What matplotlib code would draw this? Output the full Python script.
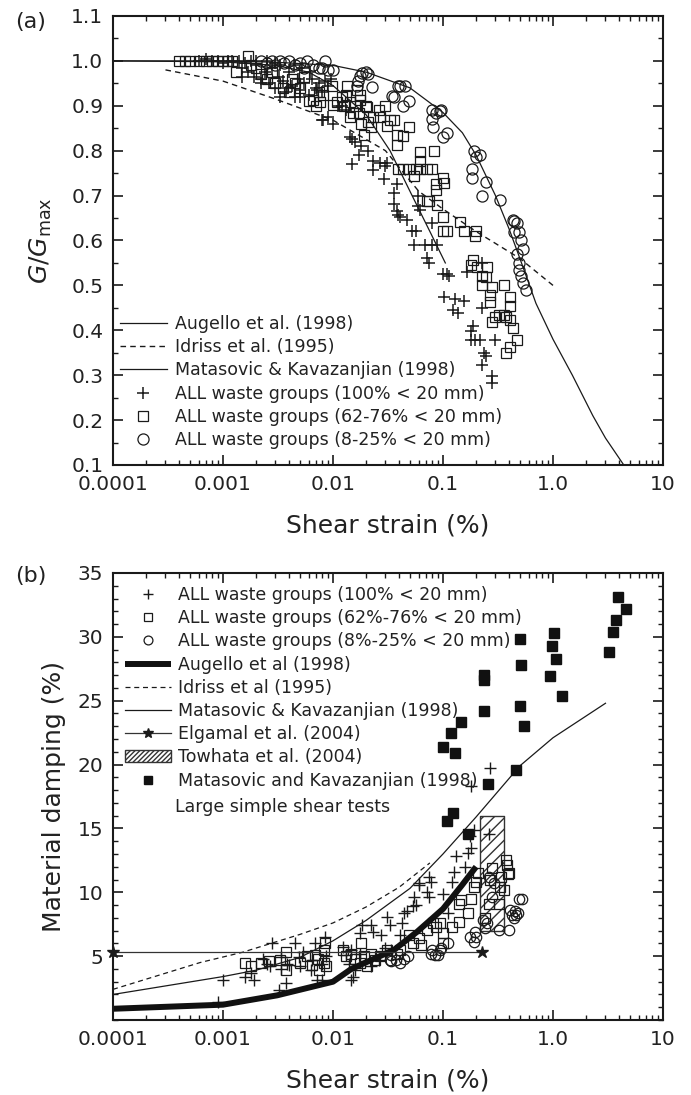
import numpy as np
import matplotlib
matplotlib.use("Agg")
import matplotlib.pyplot as plt
from matplotlib.ticker import LogLocator, NullFormatter, MultipleLocator
from matplotlib.patches import Patch
from matplotlib.lines import Line2D

# ---------------- (a) modulus reduction ----------------
aug_a_x = [0.0001, 0.001, 0.003, 0.01, 0.02, 0.05, 0.1, 0.15, 0.2, 0.3, 0.4, 0.5, 0.7, 1.0,
           1.5, 2.3, 3.0, 4.4]
aug_a_y = [1.0, 1.0, 0.997, 0.99, 0.975, 0.94, 0.885, 0.84, 0.79, 0.70, 0.625, 0.56, 0.46, 0.38,
           0.30, 0.21, 0.16, 0.10]

idr_a_x = [0.0003, 0.001, 0.003, 0.01, 0.03, 0.06, 0.1, 0.2, 0.5, 1.0]
idr_a_y = [0.98, 0.955, 0.915, 0.868, 0.80, 0.71, 0.67, 0.62, 0.56, 0.50]

mk_a_x = [0.0001, 0.001, 0.003, 0.006, 0.01, 0.02, 0.033, 0.05, 0.076, 0.105]
mk_a_y = [1.0, 0.998, 0.99, 0.975, 0.945, 0.88, 0.80, 0.71, 0.62, 0.55]

plus_a_x = [0.0006, 0.0007, 0.0008, 0.0009, 0.001, 0.0011, 0.0012, 0.0014, 0.0016, 0.0018,
            0.002, 0.0025, 0.003, 0.0015, 0.0017, 0.0019, 0.002, 0.0022, 0.0024, 0.0026,
            0.0028, 0.003, 0.0032, 0.0035, 0.0037, 0.004, 0.0042, 0.0045, 0.0048, 0.005,
            0.0055, 0.006, 0.0065, 0.007, 0.0075, 0.008, 0.0085, 0.009, 0.0095, 0.0052,
            0.0062, 0.0033, 0.0044, 0.0038, 0.0015, 0.0022, 0.0033, 0.005, 0.0071, 0.0081,
            0.008, 0.01, 0.009, 0.011, 0.0144, 0.015, 0.0158, 0.015, 0.0173, 0.018,
            0.021, 0.023, 0.023, 0.027, 0.029, 0.03, 0.031, 0.036, 0.038, 0.036,
            0.038, 0.039, 0.041, 0.047, 0.052, 0.054, 0.057, 0.059, 0.059, 0.062,
            0.069, 0.072, 0.075, 0.079, 0.079, 0.089, 0.099, 0.108, 0.113, 0.103,
            0.129, 0.123, 0.155, 0.136, 0.167, 0.178, 0.186, 0.18, 0.195, 0.215,
            0.226, 0.236, 0.248, 0.30, 0.28, 0.28, 0.226, 0.226, 0.012, 0.013]
plus_a_y = [1.0, 1.005, 1.0, 1.0, 0.995, 1.0, 1.0, 1.0, 0.995, 1.0,
            1.0, 1.0, 0.995, 0.985, 0.975, 0.965, 0.99, 0.96, 0.975, 0.95,
            0.985, 0.94, 0.965, 0.955, 0.93, 0.975, 0.945, 0.92, 0.96, 0.935,
            0.95, 0.925, 0.96, 0.94, 0.95, 0.93, 0.955, 0.945, 0.96, 0.985,
            0.975, 0.99, 0.99, 0.94, 0.964, 0.951, 0.92, 0.92, 0.935, 0.868,
            0.868, 0.86, 0.875, 0.90, 0.83, 0.825, 0.82, 0.77, 0.79, 0.81,
            0.80, 0.776, 0.757, 0.773, 0.737, 0.765, 0.773, 0.705, 0.725, 0.681,
            0.665, 0.657, 0.653, 0.645, 0.621, 0.59, 0.621, 0.70, 0.677, 0.669,
            0.59, 0.56, 0.55, 0.59, 0.64, 0.59, 0.525, 0.525, 0.52, 0.474,
            0.47, 0.446, 0.466, 0.438, 0.53, 0.398, 0.41, 0.378, 0.378, 0.378,
            0.323, 0.35, 0.343, 0.378, 0.299, 0.283, 0.45, 0.55, 0.90, 0.89]

sq_a_x = [0.0004, 0.00045, 0.0005, 0.0006, 0.0007, 0.0008, 0.0009, 0.001, 0.0011, 0.0012,
          0.0013, 0.0017, 0.0018, 0.002, 0.0022, 0.0025, 0.003, 0.0035, 0.004, 0.0045,
          0.005, 0.006, 0.007, 0.0075, 0.0066, 0.0076, 0.01, 0.0134, 0.0177, 0.0204,
          0.0143, 0.0098, 0.0081, 0.0109, 0.012, 0.0126, 0.013, 0.0144, 0.0158, 0.0151,
          0.0173, 0.0166, 0.0176, 0.02, 0.018, 0.019, 0.021, 0.022, 0.023, 0.026,
          0.027, 0.03, 0.031, 0.033, 0.036, 0.038, 0.043, 0.038, 0.049, 0.062,
          0.082, 0.039, 0.043, 0.049, 0.057, 0.062, 0.072, 0.079, 0.054, 0.062,
          0.072, 0.075, 0.088, 0.099, 0.103, 0.086, 0.086, 0.099, 0.099, 0.108,
          0.143, 0.155, 0.20, 0.195, 0.186, 0.178, 0.204, 0.25, 0.226, 0.244,
          0.226, 0.28, 0.268, 0.268, 0.358, 0.41, 0.41, 0.30, 0.325, 0.358,
          0.37, 0.28, 0.41, 0.43, 0.47, 0.41, 0.37, 0.0028, 0.0042, 0.0055]
sq_a_y = [1.0, 1.0, 1.0, 1.0, 1.0, 1.0, 1.0, 1.0, 1.0, 1.0,
          0.975, 1.01, 0.99, 0.985, 0.97, 0.96, 0.95, 0.94, 0.93, 0.95,
          0.94, 0.91, 0.90, 0.93, 0.913, 0.909, 0.902, 0.944, 0.913, 0.897,
          0.875, 0.944, 0.923, 0.908, 0.92, 0.90, 0.924, 0.908, 0.90, 0.884,
          0.884, 0.935, 0.923, 0.90, 0.86, 0.836, 0.864, 0.852, 0.876, 0.89,
          0.876, 0.90, 0.856, 0.868, 0.868, 0.836, 0.832, 0.812, 0.852, 0.796,
          0.80, 0.76, 0.76, 0.76, 0.76, 0.76, 0.76, 0.76, 0.744, 0.776,
          0.689, 0.689, 0.68, 0.74, 0.728, 0.725, 0.712, 0.653, 0.621, 0.621,
          0.641, 0.621, 0.621, 0.609, 0.557, 0.545, 0.541, 0.54, 0.52, 0.518,
          0.50, 0.497, 0.478, 0.462, 0.502, 0.474, 0.454, 0.43, 0.434, 0.434,
          0.43, 0.418, 0.422, 0.406, 0.378, 0.362, 0.35, 0.975, 0.96, 0.965]

circ_a_x = [0.0022, 0.0025, 0.0028, 0.003, 0.0033, 0.0036, 0.004, 0.0045, 0.005, 0.0055,
            0.0058, 0.0066, 0.0075, 0.0084, 0.009, 0.01, 0.008,
            0.0176, 0.0185, 0.02, 0.021, 0.017, 0.0166, 0.0225,
            0.036, 0.039, 0.041, 0.0454, 0.043, 0.049, 0.0347,
            0.079, 0.086, 0.094, 0.096, 0.079, 0.081, 0.099, 0.108,
            0.19, 0.20, 0.215, 0.185, 0.185, 0.226, 0.248, 0.33,
            0.44, 0.43, 0.47, 0.49, 0.44, 0.51, 0.535, 0.47, 0.49, 0.51,
            0.535, 0.566, 0.49]
circ_a_y = [1.0, 0.995, 1.0, 0.99, 1.0, 0.995, 1.0, 0.99, 0.995, 0.985,
            1.0, 0.99, 0.985, 1.0, 0.98, 0.98, 0.985,
            0.967, 0.972, 0.975, 0.97, 0.955, 0.945, 0.942,
            0.92, 0.944, 0.945, 0.943, 0.90, 0.91, 0.922,
            0.89, 0.885, 0.888, 0.89, 0.87, 0.852, 0.83, 0.84,
            0.80, 0.785, 0.79, 0.76, 0.74, 0.70, 0.73, 0.69,
            0.643, 0.645, 0.64, 0.62, 0.62, 0.60, 0.58, 0.57, 0.55, 0.52,
            0.505, 0.49, 0.535]

# ---------------- (b) damping ----------------
aug_b_x = [0.0001, 0.001, 0.0031, 0.01, 0.0147, 0.036, 0.058, 0.1, 0.147, 0.2]
aug_b_y = [0.88, 1.2, 1.93, 3.0, 4.0, 5.5, 6.9, 8.7, 10.5, 12.0]

idr_b_x = [0.0001, 0.00062, 0.0015, 0.005, 0.01, 0.02, 0.04, 0.076]
idr_b_y = [2.4, 4.5, 5.3, 6.7, 7.6, 8.85, 10.4, 12.3]

mk_b_x = [0.0001, 0.001, 0.002, 0.005, 0.01, 0.02, 0.05, 0.1, 0.2, 0.5, 1.0, 3.0]
mk_b_y = [2.0, 3.4, 3.9, 4.9, 6.2, 7.8, 10.3, 13.0, 15.9, 19.9, 22.1, 24.8]

elg_x = [0.0001, 0.225]
elg_y = [5.3, 5.3]

tow_x = [0.217, 0.36]
tow_lo, tow_hi = 7.0, 16.0

lss_x = [0.10, 0.117, 0.128, 0.147, 0.108, 0.124, 0.17, 0.234, 0.237, 0.234, 0.255,
         0.50, 0.51, 0.50, 0.55, 0.46, 1.02, 0.98, 1.07, 0.93, 1.2,
         3.87, 4.6, 3.7, 3.5, 3.2]
lss_y = [21.4, 22.5, 20.9, 23.3, 15.55, 16.2, 14.6, 27.0, 26.6, 24.2, 18.5,
         29.8, 27.8, 24.6, 23.0, 19.6, 30.3, 29.3, 28.3, 26.9, 25.4,
         33.1, 32.2, 31.3, 30.4, 28.8]

plus_b_x = [0.0009, 0.001, 0.0028, 0.0032, 0.0037, 0.0016, 0.0019, 0.0018, 0.0045, 0.0053,
            0.0068, 0.0084, 0.0034, 0.0038, 0.005, 0.0063, 0.0071, 0.008, 0.0065, 0.0049,
            0.0123, 0.0147, 0.0175, 0.0182, 0.022, 0.023, 0.0276, 0.031, 0.033, 0.041,
            0.044, 0.042, 0.047, 0.053, 0.057, 0.055, 0.061, 0.074, 0.077, 0.071,
            0.06, 0.074, 0.10, 0.11, 0.12, 0.126, 0.13, 0.16, 0.17, 0.18,
            0.19, 0.175, 0.26, 0.27, 0.18, 0.014, 0.016, 0.022, 0.026, 0.0175,
            0.03, 0.034, 0.0152, 0.0145, 0.013, 0.0034, 0.004, 0.0025, 0.0023, 0.0027,
            0.008, 0.0087]
plus_b_y = [1.44, 3.1, 6.06, 2.35, 2.9, 3.4, 3.1, 3.7, 6.0, 5.35,
            6.0, 6.5, 4.96, 4.4, 4.2, 3.9, 3.1, 3.1, 4.7, 4.96,
            5.74, 5.5, 6.84, 7.44, 7.44, 6.9, 6.66, 8.1, 7.44, 6.66,
            8.35, 7.57, 8.5, 8.9, 9.0, 9.66, 10.6, 11.2, 10.8, 10.05,
            10.7, 9.66, 9.9, 8.35, 10.8, 11.6, 12.85, 12.0, 13.05, 13.45,
            14.9, 14.4, 14.6, 19.7, 18.3, 4.4, 3.9, 4.2, 4.7, 5.2,
            5.6, 5.5, 3.4, 3.1, 5.1, 4.0, 4.3, 4.4, 4.8, 4.2,
            4.4, 5.0]

sq_b_x = [0.0016, 0.0018, 0.0022, 0.0026, 0.0033, 0.0037, 0.0037, 0.005, 0.0058, 0.0065,
          0.0073, 0.0082, 0.0084, 0.0082, 0.0087, 0.0075, 0.0068, 0.0123, 0.013, 0.0147,
          0.016, 0.0175, 0.019, 0.018, 0.0205, 0.022, 0.024, 0.027, 0.031, 0.038,
          0.041, 0.049, 0.053, 0.061, 0.063, 0.071, 0.081, 0.086, 0.093, 0.10,
          0.10, 0.12, 0.14, 0.14, 0.17, 0.18, 0.19, 0.20, 0.21, 0.27,
          0.28, 0.33, 0.34, 0.37, 0.38, 0.39, 0.40, 0.36, 0.32, 0.26,
          0.24, 0.147]
sq_b_y = [4.44, 4.2, 4.44, 4.6, 4.7, 5.35, 3.9, 4.44, 5.0, 4.3,
          4.8, 5.5, 6.0, 4.44, 4.2, 3.9, 5.1, 5.5, 5.0, 5.2,
          4.8, 4.44, 5.0, 6.0, 4.2, 5.2, 4.7, 5.0, 5.5, 5.2,
          5.5, 6.66, 6.0, 6.4, 5.87, 7.05, 7.57, 7.3, 7.57, 6.8,
          6.0, 7.3, 7.7, 9.1, 8.35, 9.5, 10.4, 10.8, 11.5, 11.0,
          11.9, 10.4, 11.2, 12.5, 12.1, 11.4, 11.5, 10.2, 9.1, 9.1,
          8.0, 9.4]

circ_b_x = [0.033, 0.034, 0.037, 0.041, 0.044, 0.048, 0.034, 0.078, 0.084, 0.09,
            0.093, 0.096, 0.11, 0.08, 0.175, 0.19, 0.20, 0.195, 0.23, 0.24,
            0.25, 0.28, 0.29, 0.26, 0.32, 0.40, 0.41, 0.42, 0.45, 0.46,
            0.48, 0.49, 0.52, 0.44]
circ_b_y = [4.7, 4.6, 4.7, 4.44, 4.8, 5.0, 5.1, 5.2, 5.1, 5.1,
            5.5, 5.6, 6.0, 5.5, 6.5, 6.1, 6.5, 6.9, 7.8, 7.2,
            7.57, 9.66, 10.7, 11.2, 7.05, 7.05, 8.6, 8.2, 8.5, 8.2,
            8.35, 9.5, 9.5, 8.0]

strain_ticks = [1e-4, 1e-3, 1e-2, 1e-1, 1.0, 10.0]
strain_labels = ["0.0001", "0.001", "0.01", "0.1", "1.0", "10"]

ink = "#1a1a1a"
fs_tick = 14.5
fs_label = 18
fs_leg = 12.5

fig = plt.figure(figsize=(6.91, 10.95), dpi=100)
W, H = 691.0, 1095.0
ax1 = fig.add_axes([113 / W, 1 - 465 / H, 550 / W, 449 / H])
ax2 = fig.add_axes([113 / W, 1 - 1020 / H, 550 / W, 447 / H])


def style_axes(ax):
    ax.set_xscale("log")
    ax.set_xlim(1e-4, 10)
    ax.set_xticks(strain_ticks, strain_labels)
    ax.xaxis.set_minor_locator(LogLocator(base=10, subs=np.arange(2, 10)))
    ax.xaxis.set_minor_formatter(NullFormatter())
    ax.tick_params(which="both", direction="in", top=True, right=True,
                   colors=ink, labelcolor="#222222", labelsize=fs_tick)
    ax.tick_params(which="major", length=7, width=1.2, pad=7)
    ax.tick_params(which="minor", length=3.8, width=1.0)
    for sp in ax.spines.values():
        sp.set_linewidth(1.5)
        sp.set_color(ink)
    ax.set_xlabel("Shear strain (%)", fontsize=fs_label, color="#222222", labelpad=14)


# ---- panel (a)
style_axes(ax1)
ax1.set_ylim(0.1, 1.1)
ax1.set_yticks(np.arange(0.1, 1.101, 0.1), [f"{v:.1f}" for v in np.arange(0.1, 1.101, 0.1)])
ax1.yaxis.set_minor_locator(MultipleLocator(0.05))
ax1.set_ylabel(r"$G/G_{\mathrm{max}}$", fontsize=fs_label, color="#222222", labelpad=12)

h_aug, = ax1.plot(aug_a_x, aug_a_y, color=ink, lw=0.9, label="Augello et al. (1998)")
h_idr, = ax1.plot(idr_a_x, idr_a_y, color=ink, lw=1.0, ls=(0, (4, 3)), label="Idriss et al. (1995)")
h_mk, = ax1.plot(mk_a_x, mk_a_y, color=ink, lw=0.9, label="Matasovic & Kavazanjian (1998)")
h_p, = ax1.plot(plus_a_x, plus_a_y, ls="none", marker="+", ms=9, mew=1.1, color=ink,
                label="ALL waste groups (100% < 20 mm)")
h_s, = ax1.plot(sq_a_x, sq_a_y, ls="none", marker="s", ms=7.5, mew=0.9, mfc="none", mec=ink,
                label="ALL waste groups (62-76% < 20 mm)")
h_c, = ax1.plot(circ_a_x, circ_a_y, ls="none", marker="o", ms=8, mew=0.9, mfc="none", mec=ink,
                label="ALL waste groups (8-25% < 20 mm)")
ax1.legend(handles=[h_aug, h_idr, h_mk, h_p, h_s, h_c], loc="upper left",
           bbox_to_anchor=(0.0127, 0.334), frameon=False, fontsize=fs_leg,
           borderpad=0, borderaxespad=0, handlelength=2.7, handletextpad=0.46,
           labelspacing=0.30, numpoints=1, labelcolor="#222222")
fig.text(15 / W, 1 - 22 / H, "(a)", fontsize=16, color="#222222", va="center")

# ---- panel (b)
style_axes(ax2)
ax2.set_ylim(0, 35)
ax2.set_yticks(np.arange(5, 36, 5), [str(v) for v in range(5, 36, 5)])
ax2.yaxis.set_minor_locator(MultipleLocator(1))
ax2.set_ylabel("Material damping (%)", fontsize=fs_label, color="#222222", labelpad=8)

hb_p, = ax2.plot(plus_b_x, plus_b_y, ls="none", marker="+", ms=8, mew=1.0, color=ink,
                 label="ALL waste groups (100% < 20 mm)")
hb_s, = ax2.plot(sq_b_x, sq_b_y, ls="none", marker="s", ms=7, mew=0.9, mfc="none", mec=ink,
                 label="ALL waste groups (62%-76% < 20 mm)")
hb_c, = ax2.plot(circ_b_x, circ_b_y, ls="none", marker="o", ms=7.5, mew=0.9, mfc="none", mec=ink,
                 label="ALL waste groups (8%-25% < 20 mm)")
hb_aug, = ax2.plot(aug_b_x, aug_b_y, color="#111111", lw=4.3, solid_capstyle="butt",
                   label="Augello et al (1998)")
hb_idr, = ax2.plot(idr_b_x, idr_b_y, color=ink, lw=0.9, ls=(0, (4, 3)), label="Idriss et al (1995)")
hb_mk, = ax2.plot(mk_b_x, mk_b_y, color=ink, lw=0.9, label="Matasovic & Kavazanjian (1998)")
hb_elg, = ax2.plot(elg_x, elg_y, color="#333333", lw=0.9, marker="*", ms=9, mfc=ink, mec=ink,
                   clip_on=False, label="Elgamal et al. (2004)")
ax2.fill_between(tow_x, tow_lo, tow_hi, facecolor="none", edgecolor="#333333", hatch="///", lw=1.0)
hb_tow = Patch(facecolor="none", edgecolor="#333333", hatch="///////", lw=1.0,
               label="Towhata et al. (2004)")
hb_lss, = ax2.plot(lss_x, lss_y, ls="none", marker="s", ms=7, color="#111111",
                   label="Matasovic and Kavazanjian (1998)")
hb_elg_leg = Line2D([], [], color="#333333", lw=0.9, marker="*", ms=9, mfc=ink, mec=ink)
ax2.legend(handles=[hb_p, hb_s, hb_c, hb_aug, hb_idr, hb_mk, hb_elg_leg, hb_tow, hb_lss],
           labels=["ALL waste groups (100% < 20 mm)", "ALL waste groups (62%-76% < 20 mm)",
                   "ALL waste groups (8%-25% < 20 mm)", "Augello et al (1998)",
                   "Idriss et al (1995)", "Matasovic & Kavazanjian (1998)",
                   "Elgamal et al. (2004)", "Towhata et al. (2004)",
                   "Matasovic and Kavazanjian (1998)"],
           loc="upper left", bbox_to_anchor=(0.022, 0.971), frameon=False, fontsize=fs_leg,
           borderpad=0, borderaxespad=0, handlelength=2.65, handletextpad=0.4,
           labelspacing=0.30, numpoints=1, markerscale=0.85, labelcolor="#222222")
ax2.text(0.113, 0.4765, "Large simple shear tests", transform=ax2.transAxes,
         fontsize=fs_leg, color="#222222", va="center")
fig.text(15 / W, 1 - 576 / H, "(b)", fontsize=16, color="#222222", va="center")

fig.savefig("out.png", dpi=100)
